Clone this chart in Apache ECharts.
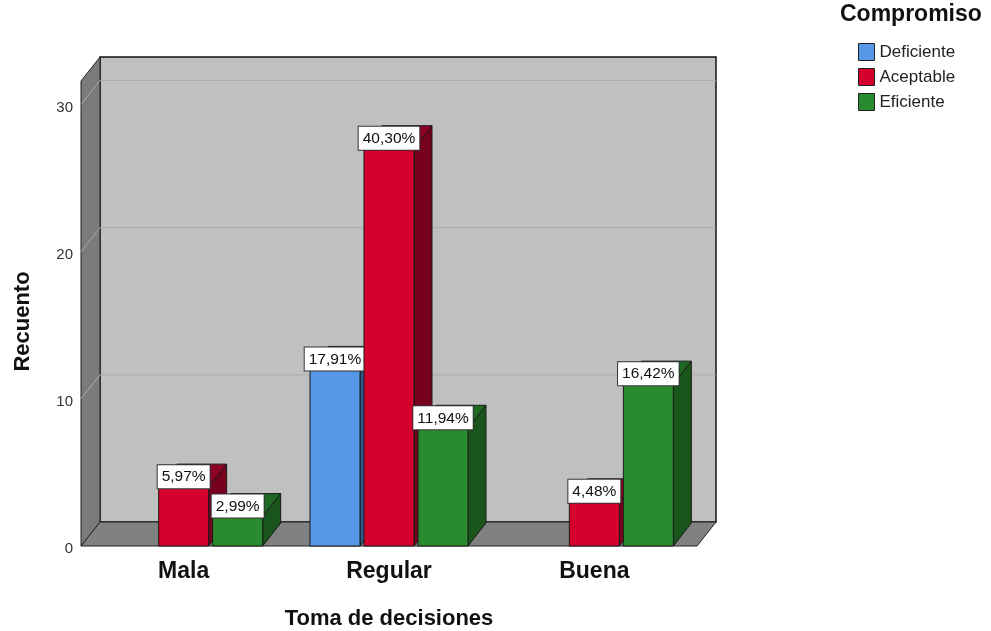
<!DOCTYPE html>
<html>
<head>
<meta charset="UTF-8">
<title>Toma de decisiones</title>
<script src="https://cdn.jsdelivr.net/npm/echarts@6.0.0/dist/echarts.min.js"></script>
<style>
  html, body { margin: 0; padding: 0; background: #fff; }
  #chart { width: 991px; height: 631px; }
</style>
</head>
<body>
<div id="chart"></div>
<script>
// categorias del eje X
var categorias = ['Mala', 'Regular', 'Buena'];
// recuentos por nivel de compromiso
var deficiente = [0, 12, 0];
var aceptable = [4, 27, 3];
var eficiente = [2, 8, 11];
// etiquetas de porcentaje (sobre el total)
var pctDeficiente = ['', '17,91%', ''];
var pctAceptable = ['5,97%', '40,30%', '4,48%'];
var pctEficiente = ['2,99%', '11,94%', '16,42%'];
var ticksY = [0, 10, 20, 30];

var FONT = 'Arial, "Liberation Sans", sans-serif';
// profundidad del efecto 3D
var DX = 18, DY = -23;
var WX = 19, WY = -24;
var BAR_RATIO = 50 / 205.3;
var STEP_RATIO = 54 / 205.3;

var colores = [
  { front: '#5698e6', top: '#3f74b4', side: '#2f5a8e' },
  { front: '#d6002d', top: '#8e0026', side: '#78001f' },
  { front: '#2a8a2e', top: '#1f6922', side: '#1a551c' }
];

function renderBarra(idx, etiquetas) {
  return function (params, api) {
    var v = api.value(1);
    if (!v) return;
    var cat = api.value(0);
    var base = api.coord([cat, 0]);
    var tope = api.coord([cat, v]);
    var band = api.size([1, 0])[0];
    var bw = band * BAR_RATIO;
    var cx = base[0] + (idx - 1) * band * STEP_RATIO;
    var x0 = cx - bw / 2, x1 = cx + bw / 2;
    var y0 = base[1], y1 = tope[1];
    var c = colores[idx];
    var borde = { stroke: '#1a1a1a', lineWidth: 1 };
    return {
      type: 'group',
      children: [
        {
          type: 'polygon',
          shape: { points: [[x1, y1], [x1 + DX, y1 + DY], [x1 + DX, y0 + DY], [x1, y0]] },
          style: Object.assign({ fill: c.side }, borde)
        },
        {
          type: 'polygon',
          shape: { points: [[x0, y1], [x1, y1], [x1 + DX, y1 + DY], [x0 + DX, y1 + DY]] },
          style: Object.assign({ fill: c.top }, borde)
        },
        {
          type: 'rect',
          shape: { x: x0, y: y1, width: bw, height: y0 - y1 },
          style: Object.assign({ fill: c.front }, borde)
        },
        {
          type: 'text',
          style: {
            text: etiquetas[cat],
            x: cx,
            y: y1 + 1,
            align: 'center',
            verticalAlign: 'bottom',
            fill: '#111',
            fontSize: 15.5,
            fontFamily: FONT,
            backgroundColor: '#fff',
            borderColor: '#333',
            borderWidth: 1,
            padding: [4, 4, 3, 4]
          }
        }
      ]
    };
  };
}

function renderMarco(params, api) {
  var cs = params.coordSys;
  var L = cs.x, R = cs.x + cs.width;
  var y0 = api.coord([0, 0])[1];
  var yT = cs.y;
  var hijos = [];
  // pared del fondo
  hijos.push({
    type: 'rect',
    shape: { x: L + WX, y: yT + WY, width: R - L, height: y0 - yT },
    style: { fill: '#c0c0c0', stroke: '#111', lineWidth: 1.5 }
  });
  // pared izquierda
  hijos.push({
    type: 'polygon',
    shape: { points: [[L, y0], [L, yT], [L + WX, yT + WY], [L + WX, y0 + WY]] },
    style: { fill: '#7b7b7b', stroke: '#222', lineWidth: 1 }
  });
  // suelo
  hijos.push({
    type: 'polygon',
    shape: { points: [[L, y0], [R, y0], [R + WX, y0 + WY], [L + WX, y0 + WY]] },
    style: { fill: '#818181', stroke: '#222', lineWidth: 1 }
  });
  // lineas de rejilla
  ticksY.forEach(function (t) {
    if (t === 0) return;
    var y = api.coord([0, t])[1];
    hijos.push({
      type: 'polyline',
      shape: { points: [[L, y], [L + WX, y + WY], [R + WX, y + WY]] },
      style: { stroke: '#acacac', lineWidth: 1, fill: null }
    });
  });
  return { type: 'group', children: hijos };
}

var chart = echarts.init(document.getElementById('chart'));

var option = {
  animation: false,
  title: {
    text: 'Compromiso',
    left: 840,
    top: 3,
    padding: 0,
    textStyle: { fontFamily: FONT, fontSize: 23, fontWeight: 'bold', color: '#111' }
  },
  legend: {
    orient: 'vertical',
    left: 858,
    top: 43,
    padding: 0,
    itemWidth: 16,
    itemHeight: 17,
    itemGap: 7,
    icon: 'rect',
    data: ['Deficiente', 'Aceptable', 'Eficiente'],
    itemStyle: { borderColor: '#222', borderWidth: 1 },
    textStyle: { fontFamily: FONT, fontSize: 17, color: '#222', padding: [0, 0, 0, 0] }
  },
  grid: { left: 81, right: 294, top: 81, bottom: 85, outerBoundsMode: 'none', containLabel: false },
  xAxis: {
    type: 'category',
    data: categorias,
    axisLine: { show: false },
    axisTick: { show: false },
    axisLabel: { fontFamily: FONT, fontSize: 23, fontWeight: 'bold', color: '#111', margin: 14 },
    name: 'Toma de decisiones',
    nameLocation: 'middle',
    nameGap: 62,
    nameTextStyle: { fontFamily: FONT, fontSize: 22, fontWeight: 'bold', color: '#111' }
  },
  yAxis: {
    type: 'value',
    min: 0,
    max: 31.6,
    interval: 10,
    axisLine: { show: false },
    axisTick: { show: false },
    splitLine: { show: false },
    axisLabel: {
      fontFamily: FONT, fontSize: 15, color: '#333', margin: 8,
      verticalAlign: 'top', lineHeight: 6,
      formatter: function (v) { return ticksY.indexOf(v) >= 0 ? String(v) : ''; }
    },
    name: 'Recuento',
    nameLocation: 'middle',
    nameRotate: 90,
    nameGap: 47,
    nameTextStyle: { fontFamily: FONT, fontSize: 22, fontWeight: 'bold', color: '#111', padding: [0, 16, 0, 0] }
  },
  series: [
    {
      name: 'marco',
      type: 'custom',
      z: 1,
      silent: true,
      renderItem: renderMarco,
      data: [[0, 0]]
    },
    {
      name: 'Deficiente',
      type: 'custom',
      z: 2,
      itemStyle: { color: colores[0].front },
      renderItem: renderBarra(0, pctDeficiente),
      encode: { x: 0, y: 1 },
      data: deficiente.map(function (v, i) { return [i, v]; })
    },
    {
      name: 'Aceptable',
      type: 'custom',
      z: 3,
      itemStyle: { color: colores[1].front },
      renderItem: renderBarra(1, pctAceptable),
      encode: { x: 0, y: 1 },
      data: aceptable.map(function (v, i) { return [i, v]; })
    },
    {
      name: 'Eficiente',
      type: 'custom',
      z: 4,
      itemStyle: { color: colores[2].front },
      renderItem: renderBarra(2, pctEficiente),
      encode: { x: 0, y: 1 },
      data: eficiente.map(function (v, i) { return [i, v]; })
    }
  ]
};

chart.setOption(option);
</script>
</body>
</html>
